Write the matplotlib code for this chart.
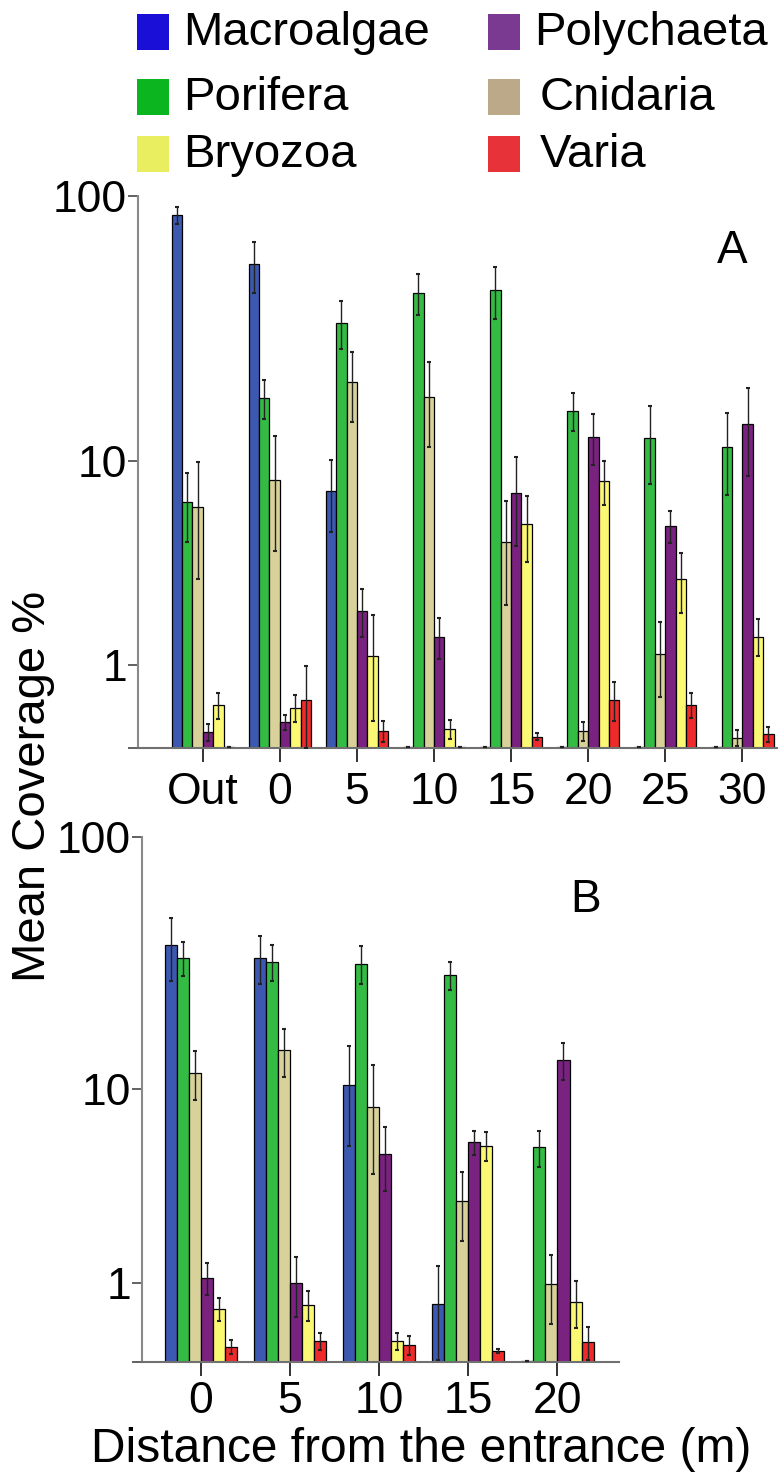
import numpy as np
import matplotlib
matplotlib.use("Agg")
import matplotlib.pyplot as plt
from matplotlib.patches import Rectangle

plt.rcParams['font.family'] = ['Liberation Sans', 'DejaVu Sans']

taxa = ["Macroalgae", "Porifera", "Cnidaria", "Polychaeta", "Bryozoa", "Varia"]
bar_colors = ["#3d58b0", "#33bb44", "#d8d29a", "#7a2280", "#fbf874", "#ee2a2a"]
legend_colors = ["#1a0fd6", "#0ab520", "#bba98a", "#7b3a91", "#e8ee60", "#e8323a"]

# panel A : Out + distances 0..30 m
labels_a = ["Out", "0", "5", "10", "15", "20", "25", "30"]
a_macroalgae = [85, 56, 7.6, 0.01, 0.01, 0.01, 0.01, 0.01]
a_macroalgae_err = [6, 12, 2.5, 0, 0, 0, 0, 0]
a_porifera = [6.8, 17.6, 34, 44, 45, 15.8, 12.3, 11.4]
a_porifera_err = [2.2, 3, 7, 7.7, 10, 2.7, 4.2, 4.1]
a_cnidaria = [6.5, 8.4, 20.3, 17.8, 4.6, 0.15, 1.2, 0.09]
a_cnidaria_err = [3.4, 4.2, 6, 6.4, 2.3, 0.09, 0.67, 0.07]
a_polychaeta = [0.14, 0.24, 2.15, 1.53, 7.4, 12.5, 5.4, 14]
a_polychaeta_err = [0.08, 0.08, 0.63, 0.43, 3, 2.8, 0.85, 5.3]
a_bryozoa = [0.43, 0.40, 1.15, 0.17, 5.5, 8.3, 3.1, 1.54]
a_bryozoa_err = [0.16, 0.16, 0.9, 0.09, 1.75, 1.7, 1.0, 0.39]
a_varia = [0.01, 0.49, 0.15, 0.01, 0.1, 0.49, 0.43, 0.12]
a_varia_err = [0, 0.49, 0.1, 0, 0.03, 0.24, 0.15, 0.07]

# panel B : distances 0..20 m
labels_b = ["0", "5", "10", "15", "20"]
b_macroalgae = [38, 34, 10.4, 0.67, 0.01]
b_macroalgae_err = [10.5, 7.2, 4.7, 0.65, 0]
b_porifera = [34, 32.7, 32.2, 29, 5.6]
b_porifera_err = [5.2, 5.3, 5.5, 3.8, 1.05]
b_cnidaria = [11.7, 14.5, 8.4, 3.1, 0.98]
b_cnidaria_err = [2.7, 3.2, 4.2, 1.2, 0.58]
b_polychaeta = [1.09, 1.0, 5.2, 5.9, 13.2]
b_polychaeta_err = [0.29, 0.52, 1.7, 0.75, 2.3]
b_bryozoa = [0.6, 0.65, 0.2, 5.7, 0.69]
b_bryozoa_err = [0.16, 0.22, 0.09, 0.85, 0.34]
b_varia = [0.14, 0.2, 0.16, 0.1, 0.19]
b_varia_err = [0.07, 0.09, 0.1, 0.02, 0.17]


def fwd(y):
    return np.log10(np.clip(y, 0, None) + 1)


def inv(y):
    return 10 ** y - 1


def draw_panel(ax, labels, means, errs, letter, xlim, pad):
    x = np.arange(len(labels))
    w = 0.135
    for i, (m, e) in enumerate(zip(means, errs)):
        xs = x + (i - 2.5) * w
        ax.bar(xs, m, width=w, color=bar_colors[i], edgecolor="black",
               linewidth=0.9, zorder=2)
        ax.errorbar(xs, m, yerr=e, fmt="none", ecolor="#222222",
                    elinewidth=1.0, capsize=1.5, capthick=1.5, zorder=3)
    ax.set_yscale("function", functions=(fwd, inv))
    ax.set_ylim(0, 100)
    ax.set_xlim(*xlim)
    ax.set_yticks([0, 1, 10, 100])
    ax.set_yticklabels(["", "1", "10", "100"])
    ax.set_xticks(x)
    ax.set_xticklabels(labels)
    ax.minorticks_off()
    for s in ["top", "right"]:
        ax.spines[s].set_visible(False)
    ax.spines["left"].set_color("#8a8a8a")
    ax.spines["bottom"].set_color("#707070")
    ax.spines["left"].set_linewidth(1.5)
    ax.spines["bottom"].set_linewidth(1.5)
    ax.tick_params(axis="y", length=7, width=1.3, color="#555555",
                   labelsize=32, pad=1)
    ax.tick_params(axis="x", length=10, width=1.3, color="#222222",
                   labelsize=32, pad=pad)
    ax.text(0.93, 0.9 if letter == "A" else 0.88, letter, transform=ax.transAxes,
            fontsize=33, ha="center", va="center")


fig = plt.figure(figsize=(7.83, 14.75), dpi=100)
W, H = 783, 1475
axA = fig.add_axes([138 / W, 1 - 748 / H, (777 - 138) / W, (748 - 196) / H])
axB = fig.add_axes([142 / W, 1 - 1362 / H, (619 - 142) / W, (1362 - 837) / H])

draw_panel(axA, labels_a,
           [a_macroalgae, a_porifera, a_cnidaria, a_polychaeta, a_bryozoa, a_varia],
           [a_macroalgae_err, a_porifera_err, a_cnidaria_err, a_polychaeta_err,
            a_bryozoa_err, a_varia_err],
           "A", (-0.84, 7.45), 7)
draw_panel(axB, labels_b,
           [b_macroalgae, b_porifera, b_cnidaria, b_polychaeta, b_bryozoa, b_varia],
           [b_macroalgae_err, b_porifera_err, b_cnidaria_err, b_polychaeta_err,
            b_bryozoa_err, b_varia_err],
           "B", (-0.66, 4.69), 4)

# legend drawn by hand at the top (two columns)
leg_order = [0, 1, 4, 3, 2, 5]
leg_cols = [137, 137, 137, 488, 488, 488]
leg_rows = [32, 97, 154, 32, 97, 154]
for k, idx in enumerate(leg_order):
    x0, yc = leg_cols[k], leg_rows[k]
    fig.add_artist(Rectangle((x0 / W, 1 - (yc + 18) / H), 32 / W, 36 / H,
                             transform=fig.transFigure, facecolor=legend_colors[idx],
                             edgecolor="none"))
    fig.text((x0 + 46 + (6 if k > 3 else 0)) / W, 1 - (yc + 1) / H, taxa[idx],
             fontsize=34, ha="left", va="center")

fig.text(33 / W, 1 - 786 / H, "Mean Coverage %", rotation=90, fontsize=34,
         ha="center", va="center")
fig.text(421 / W, 1 - 1450 / H, "Distance from the entrance (m)", fontsize=34.5,
         ha="center", va="center")

fig.savefig("out.png", dpi=100)
